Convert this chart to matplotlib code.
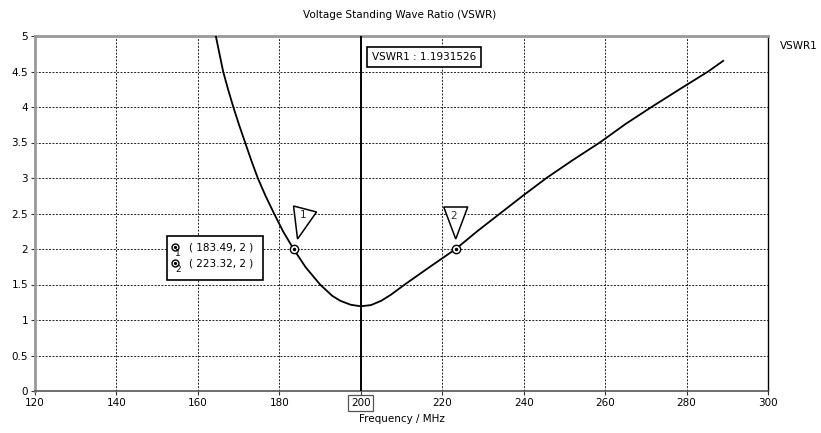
import numpy as np
import matplotlib
matplotlib.use("Agg")
import matplotlib.pyplot as plt
from matplotlib.patches import Polygon, Rectangle
from matplotlib.transforms import IdentityTransform

# VSWR curve
freq = [164.4, 165.3, 166.2, 167.4, 168.7, 170.1, 171.6, 173.1, 174.7, 176.6,
        178.7, 180.9, 183.49, 186.5, 190.0, 193.0, 195.0, 197.5, 200.0, 202.5,
        205.0, 207.5, 210.8, 217.0, 223.32, 228.6, 234.2, 239.8, 245.6, 252.0,
        258.7, 265.0, 271.4, 278.3, 285.3, 289.0]
vswr = [5.0, 4.75, 4.5, 4.25, 4.0, 3.75, 3.5, 3.25, 3.0, 2.75,
        2.5, 2.25, 2.0, 1.74, 1.5, 1.34, 1.27, 1.215, 1.193, 1.21,
        1.27, 1.36, 1.5, 1.75, 2.0, 2.25, 2.5, 2.75, 3.0, 3.25,
        3.5, 3.76, 4.0, 4.25, 4.5, 4.65]

marker_freq = [183.49, 223.32]
marker_val = [2, 2]
marker_names = ["1", "2"]
cursor_freq = 200
cursor_val = 1.1931526

xticks = [120, 140, 160, 180, 200, 220, 240, 260, 280, 300]
yticks = [0, 0.5, 1, 1.5, 2, 2.5, 3, 3.5, 4, 4.5, 5]
ytick_labels = ["0", "0.5", "1", "1.5", "2", "2.5", "3", "3.5", "4", "4.5", "5"]

plt.rcParams['font.family'] = ['DejaVu Sans']
FS = 7.5

W, H = 821, 433
fig = plt.figure(figsize=(W / 100, H / 100), dpi=100)
# axes box in pixels: left 35, right 768, top 36, bottom 391
ax = fig.add_axes([35 / W, (H - 391) / H, (768 - 35) / W, (391 - 36) / H])

ax.plot(freq, vswr, color="black", lw=1.3, zorder=3)
ax.set_xlim(120, 300)
ax.set_ylim(0, 5)
ax.set_xticks(xticks)
ax.set_yticks(yticks)
ax.set_yticklabels(ytick_labels)
ax.tick_params(labelsize=FS, length=3, width=0.8, color="#333333", pad=2)
ax.grid(True, color="#222222", ls=(0, (2, 1.5)), lw=0.7)

for s in ["left", "top"]:
    ax.spines[s].set_color("#999999")
    ax.spines[s].set_linewidth(2)
ax.spines["bottom"].set_color("#555555")
ax.spines["bottom"].set_linewidth(1.2)
ax.spines["right"].set_color("black")
ax.spines["right"].set_linewidth(1)

# cursor line
ax.axvline(cursor_freq, color="black", lw=1.4, zorder=4)

ax.set_xlabel("Frequency / MHz", fontsize=FS, labelpad=4)
fig.text(400 / W, 1 - 15 / H, "Voltage Standing Wave Ratio (VSWR)", fontsize=FS,
         ha="center", va="center")
fig.text(780 / W, 1 - 46 / H, "VSWR1", fontsize=FS, ha="left", va="center")

# box on the 200 tick label
for lbl in ax.get_xticklabels():
    if lbl.get_text() == str(cursor_freq):
        lbl.set_bbox(dict(facecolor="white", edgecolor="#555555", lw=0.9, pad=2))

# cursor readout
ax.text(372 / W, 1 - 57 / H, "VSWR1 : %.7f" % cursor_val, transform=fig.transFigure,
        fontsize=FS, ha="left", va="center", zorder=6,
        bbox=dict(facecolor="white", edgecolor="black", lw=1.2, pad=3.5))

# marker points
ax.plot(marker_freq, marker_val, "o", ms=6, mfc="white", mec="black", mew=1, zorder=5)
ax.plot(marker_freq, marker_val, "o", ms=1.5, mfc="black", mec="black", zorder=6)

fig.canvas.draw()
tri_offsets = [
    [(0, 43), (23, 37), (4, 10)],
    [(-12, 42), (12, 42), (0, 10)],
]
for f, v, name, off in zip(marker_freq, marker_val, marker_names, tri_offsets):
    px, py = ax.transData.transform((f, v))
    pts = [(px + dx, py + dy) for dx, dy in off]
    fig.patches.append(Polygon(pts, closed=True, facecolor="white", edgecolor="black",
                               lw=1.1, transform=IdentityTransform(), figure=fig, zorder=5))
    cx = sum(p[0] for p in pts[:2]) / 2
    cy = pts[0][1] - 9
    fig.text(cx / W - 2 / W, cy / H, name, fontsize=FS, ha="center", va="center",
             color="#1a1a60" if name == "1" else "#303030", zorder=6)

# marker table
fig.patches.append(Rectangle((167 / W, 1 - 280 / H), 96 / W, 44 / H,
                             transform=fig.transFigure, facecolor="white",
                             edgecolor="black", lw=1.2, figure=fig, zorder=5))
for i, (f, v, name) in enumerate(zip(marker_freq, marker_val, marker_names)):
    y = 1 - (248 + 16 * i) / H
    fig.lines.append(plt.Line2D([175 / W], [y + 1 / H], marker="o", ms=5, mfc="white",
                                mec="black", mew=1, transform=fig.transFigure, figure=fig,
                                zorder=6))
    fig.lines.append(plt.Line2D([175 / W], [y + 1 / H], marker="o", ms=1.3, mfc="black",
                                mec="black", transform=fig.transFigure, figure=fig, zorder=7))
    fig.text(178 / W, y - 6 / H, name, fontsize=6.5, ha="center", va="center", zorder=7)
    fig.text(189 / W, y, "( %.2f, %g )" % (f, v), fontsize=FS, ha="left", va="center",
             zorder=7)

fig.savefig("out.png", dpi=100)
